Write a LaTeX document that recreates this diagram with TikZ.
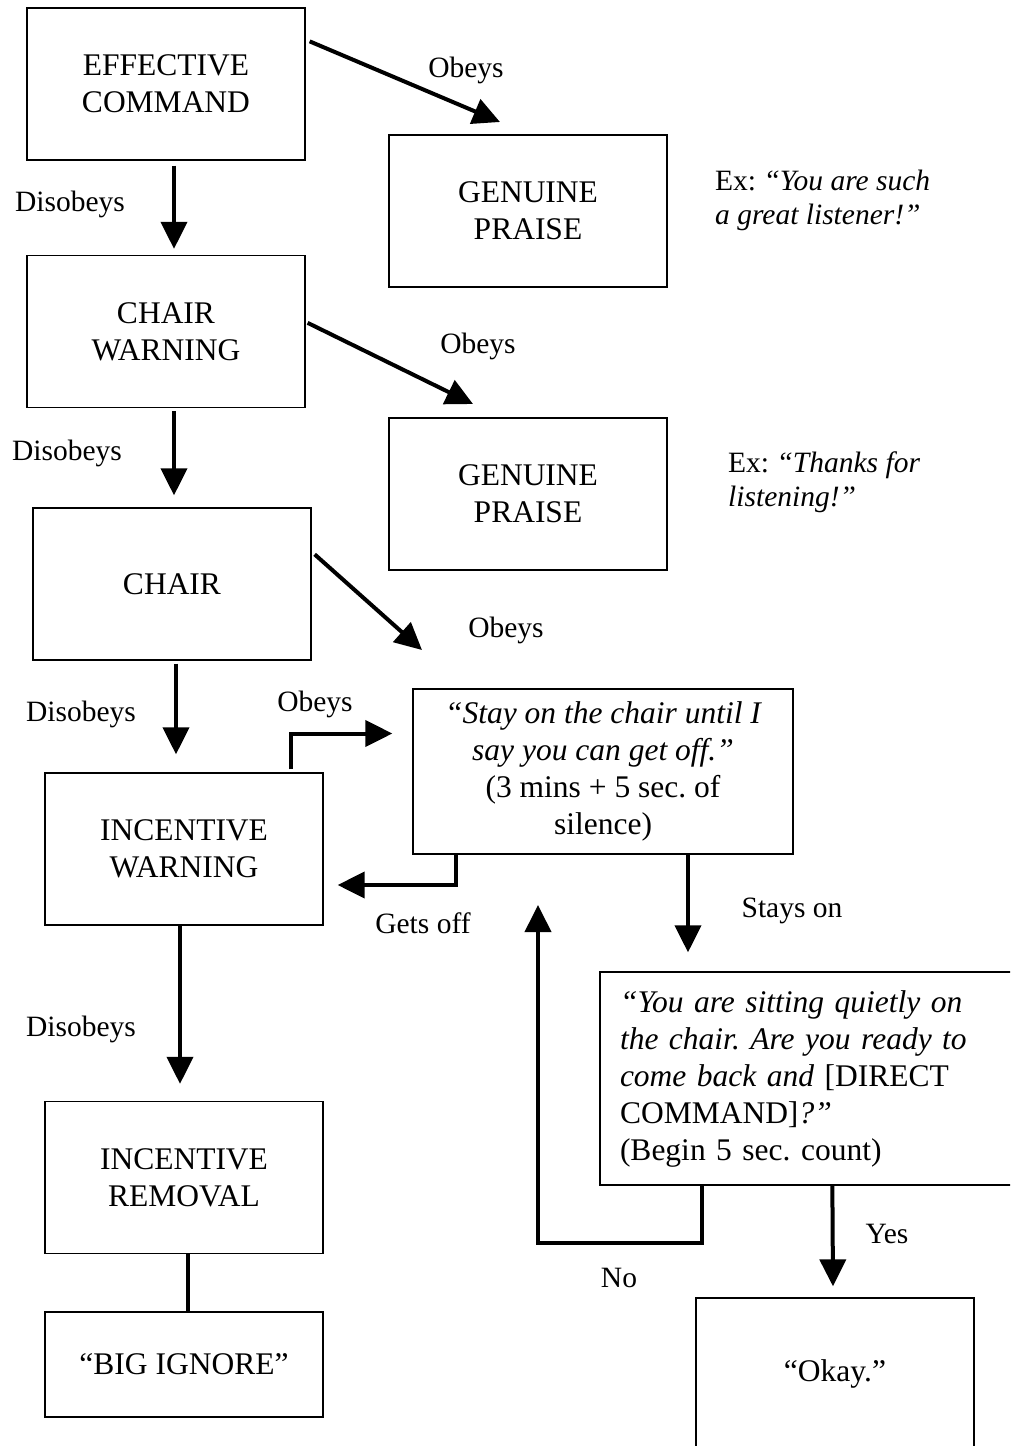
\documentclass[tikz,border=0pt]{standalone}
\usepackage{fontspec}
\setmainfont{Liberation Serif}
\usetikzlibrary{arrows.meta,calc}
\frenchspacing
\begin{document}
\begin{tikzpicture}[x=1pt,y=-1pt,
  box/.style={draw, line width=1.3pt, minimum width=278pt, minimum height=152pt, align=center, inner sep=0pt},
  arr/.style={line width=4pt, -{Triangle[length=27pt,width=26pt]}},
  ln/.style={line width=4pt},
  lbl/.style={inner sep=0pt, font=\fontsize{29.5}{34}\selectfont\frenchspacing},
  font=\fontsize{31.5}{37}\selectfont\frenchspacing]
\useasboundingbox (0,0) rectangle (1010,1446);
\clip (0,0) rectangle (1010,1446);
% boxes
\node[box] (ec) at (166,84) {EFFECTIVE\\COMMAND};
\node[box] (gp1) at (528,211) {GENUINE\\PRAISE};
\node[box] (cw) at (166,331.5) {CHAIR\\WARNING};
\node[box] (gp2) at (528,494) {GENUINE\\PRAISE};
\node[box] (ch) at (172,584) {CHAIR};
\node[box] (iw) at (184,849) {INCENTIVE\\WARNING};
\node[box, minimum width=380pt, minimum height=165pt] (stay) at (603,771.5)
  {\itshape “Stay on the chair until I\\ \itshape say you can get off.”\\ \upshape (3 mins + 5 sec. of\\ \upshape silence)};
\node[draw, line width=1.3pt, minimum width=430pt, minimum height=213pt, inner xsep=20pt, inner ysep=0pt, text width=390pt, align=left] (sit) at (815,1078.5)
  {\itshape “You are sitting quietly on\\ \itshape the chair. Are you ready to\\ \itshape come back and \upshape[DIRECT\\ \upshape COMMAND]\itshape?”\\ \upshape(Begin 5 sec. count)};
\node[box] (ok) at (835,1374) {“Okay.”};
\node[box] (ir) at (184,1177.5) {INCENTIVE\\REMOVAL};
\node[box, minimum height=105pt] (bi) at (184,1364.5) {“BIG IGNORE”};
% labels
\node[lbl] (lo1) at (466,70) {Obeys};
\node[lbl, align=left, anchor=west] (ex1) at (715,200) {Ex: \itshape “You are such\\ \itshape a great listener!”};
\node[lbl] (ld1) at (70,204) {Disobeys};
\node[lbl] (lo2) at (478,346) {Obeys};
\node[lbl] (ld2) at (67,453) {Disobeys};
\node[lbl, align=left, anchor=west] (ex2) at (728,482) {Ex: \itshape “Thanks for\\ \itshape listening!”};
\node[lbl] (lo3) at (506,630) {Obeys};
\node[lbl] (ld3) at (81,714) {Disobeys};
\node[lbl] (lo4) at (315,704) {Obeys};
\node[lbl] (lg) at (423,923) {Gets off};
\node[lbl] (ls) at (792,911) {Stays on};
\node[lbl] (lno) at (619,1278) {No};
\node[lbl] (lyes) at (887,1234) {Yes};
\node[lbl] (ld4) at (81,1029) {Disobeys};
% free ends
\coordinate (o1e) at (500,122);
\coordinate (o2e) at (473,404);
\coordinate (o3e) at (422,650);
\coordinate (nocorner) at (538,1243);
\coordinate (noend) at (538,905);
% connectors
\draw[arr] ($(ec.north east)+(4,34)$) -- (o1e);
\draw[arr] ($(cw.north east)+(2,68)$) -- (o2e);
\draw[arr] ($(ch.north east)+(3,47)$) -- (o3e);
\draw[arr] ($(ec.south)+(8,5)$) -- ($(cw.north)+(8,-6)$);
\draw[arr] ($(cw.south)+(8,3)$) -- ($(ch.north)+(2,-12)$);
\draw[arr] ($(ch.south)+(4,3)$) -- ($(iw.north)+(-8,-18)$);
\draw[arr] ($(iw.south)+(-4,0)$) -- ($(ir.north)+(-4,-17)$);
\draw[ln] ($(ir.south)+(4,0)$) -- ($(bi.north)+(4,0)$);
\draw[arr] ($(iw.north)+(107,-3)$) |- ($(stay.west)+(-20,-38)$);
\draw[arr] ($(stay.south west)+(44,0)$) |- ($(iw.east)+(14,36)$);
\draw[arr] ($(stay.south)+(85,0)$) -- ($(sit.north)+(-127,-19)$);
\draw[arr] ($(sit.south west)+(103,0)$) |- (nocorner) -- (noend);
\draw[arr] ($(sit.south west)+(233,0)$) -- ($(ok.north)+(-2,-11)$);
\end{tikzpicture}
\end{document}
